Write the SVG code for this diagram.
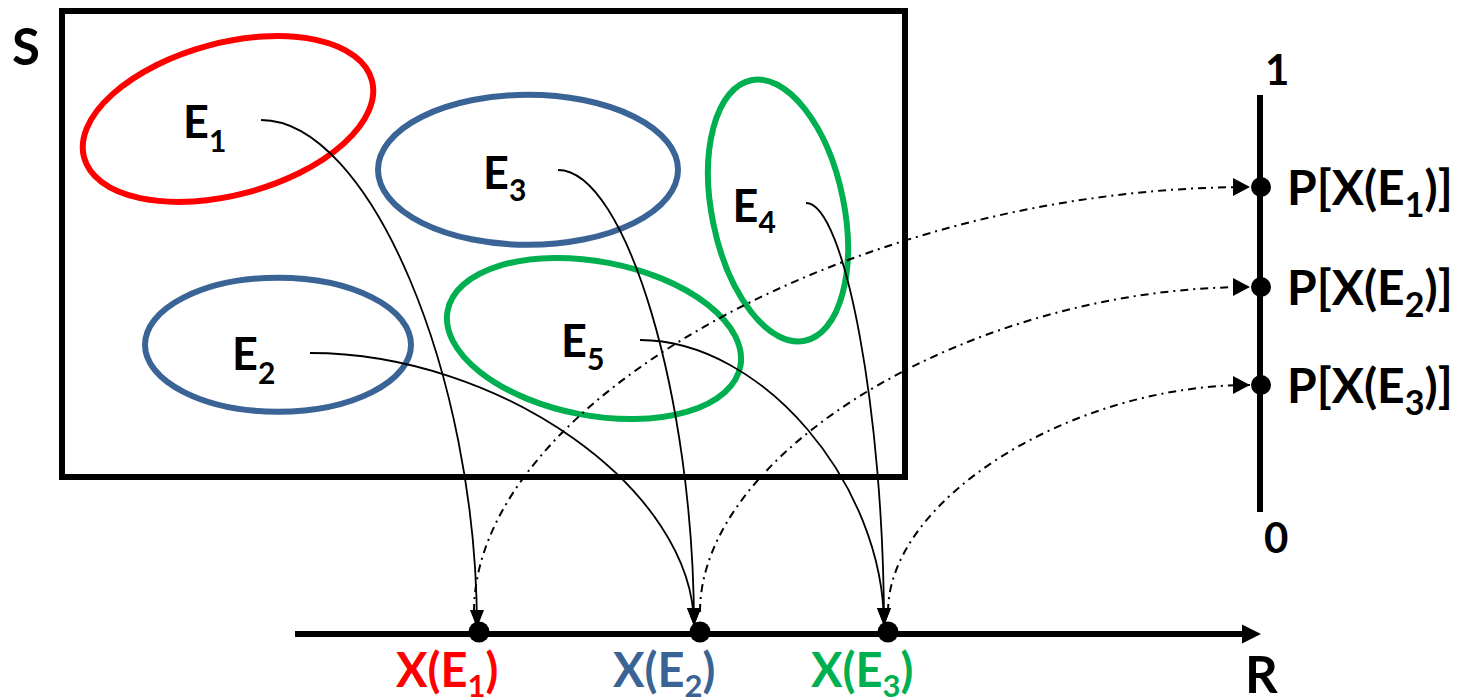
<svg xmlns="http://www.w3.org/2000/svg" width="1459" height="697" viewBox="0 0 1459 697">
<defs>
<style>
.t{font-family:Lato,"Liberation Sans",sans-serif;font-weight:bold;fill:#000}
.ev{font-size:45px}
.xv{font-size:47px}
.sub{font-size:30px}
.xsub{font-size:31px}
.pl{font-size:48px}
.psub{font-size:34px}
.ell{fill:none;stroke-width:6}
.red{stroke:#FF0000}
.blue{stroke:#3A6396}
.green{stroke:#00B050}
.conn{fill:none;stroke:#000;stroke-width:1.8;marker-end:url(#ah)}
.dd{fill:none;stroke:#000;stroke-width:2;stroke-dasharray:8 5 2 5;marker-end:url(#ah2)}
.axis{stroke:#000;stroke-width:6;fill:none}
</style>
<marker id="ah" markerUnits="userSpaceOnUse" markerWidth="20" markerHeight="16" refX="18" refY="7" orient="auto">
<path d="M0,0 L18,7 L0,14 z" fill="#000"/>
</marker>
<marker id="ah2" markerUnits="userSpaceOnUse" markerWidth="20" markerHeight="20" refX="17" refY="9" orient="auto">
<path d="M0,0 L17,9 L0,18 z" fill="#000"/>
</marker>
</defs>

<g id="sample-space">
<rect x="62" y="11" width="843" height="466" fill="none" stroke="#000" stroke-width="6"/>
<text class="t" x="12" y="65" font-size="51">S</text>
</g>

<g id="E1">
<ellipse class="ell red" cx="228" cy="119" rx="149" ry="76" transform="rotate(-15 228 119)"/>
<text class="t ev" x="183" y="137.5">E<tspan class="sub" dy="14">1</tspan></text>
</g>
<g id="E2">
<ellipse class="ell blue" cx="278" cy="344.7" rx="133" ry="67"/>
<text class="t ev" x="232" y="370">E<tspan class="sub" dy="14">2</tspan></text>
</g>
<g id="E3">
<ellipse class="ell blue" cx="528" cy="169.8" rx="150" ry="75"/>
<text class="t ev" x="483" y="188.5">E<tspan class="sub" dy="12">3</tspan></text>
</g>
<g id="E4">
<ellipse class="ell green" cx="778" cy="210.5" rx="66" ry="133" transform="rotate(-11.6 778 210.5)"/>
<text class="t ev" x="732.5" y="221.7">E<tspan class="sub" dy="11">4</tspan></text>
</g>
<g id="E5">
<ellipse class="ell green" cx="594" cy="338.5" rx="149" ry="77" transform="rotate(10.75 594 338.5)"/>
<text class="t ev" x="561" y="356.7">E<tspan class="sub" dy="13">5</tspan></text>
</g>

<g id="real-axis">
<line class="axis" x1="295" y1="634" x2="1245" y2="634"/>
<polygon points="1242,624.5 1261,634 1242,643.5" fill="#000"/>
<text class="t" x="1245" y="693" font-size="51">R</text>
</g>
<g id="X1">
<circle cx="479" cy="632" r="10.5" fill="#000"/>
<text class="t xv" x="396" y="686.5" style="fill:#FF0000">X(E<tspan class="xsub" dy="10">1</tspan><tspan dy="-10">)</tspan></text>
</g>
<g id="X2">
<circle cx="700" cy="632" r="10.5" fill="#000"/>
<text class="t xv" x="613" y="686.5" style="fill:#3A6396">X(E<tspan class="xsub" dy="10">2</tspan><tspan dy="-10">)</tspan></text>
</g>
<g id="X3">
<circle cx="888" cy="632" r="10.5" fill="#000"/>
<text class="t xv" x="811" y="686.5" style="fill:#00B050">X(E<tspan class="xsub" dy="10">3</tspan><tspan dy="-10">)</tspan></text>
</g>

<g id="prob-axis">
<line class="axis" x1="1260" y1="95" x2="1260" y2="512"/>
<text class="t" x="1265" y="85" font-size="42">1</text>
<text class="t" x="1264" y="553" font-size="42">0</text>
</g>
<g id="P1">
<circle cx="1261" cy="187" r="10" fill="#000"/>
<text class="t pl" x="1287" y="205">P[X(E<tspan class="psub" dy="12">1</tspan><tspan dy="-12">)]</tspan></text>
</g>
<g id="P2">
<circle cx="1261" cy="287" r="10" fill="#000"/>
<text class="t pl" x="1287" y="305">P[X(E<tspan class="psub" dy="12">2</tspan><tspan dy="-12">)]</tspan></text>
</g>
<g id="P3">
<circle cx="1261" cy="385" r="10" fill="#000"/>
<text class="t pl" x="1287" y="403">P[X(E<tspan class="psub" dy="12">3</tspan><tspan dy="-12">)]</tspan></text>
</g>

<g id="connectors">
<path class="conn" d="M261,120 C369,120 477,374 477,628"/>
<path class="conn" d="M310,353 C501,353 694,490 694,626"/>
<path class="conn" d="M558,170 C626,170 694,399 694,626"/>
<path class="conn" d="M806,203 C845,203 884,415 884,626"/>
<path class="conn" d="M640,340 C762,340 884,484 884,626"/>
<path class="dd" d="M474,612 C474,400 861,187 1250,187"/>
<path class="dd" d="M700,612 C700,450 975,287 1250,287"/>
<path class="dd" d="M888,612 C888,500 1070,385 1250,385"/>
</g>
</svg>
